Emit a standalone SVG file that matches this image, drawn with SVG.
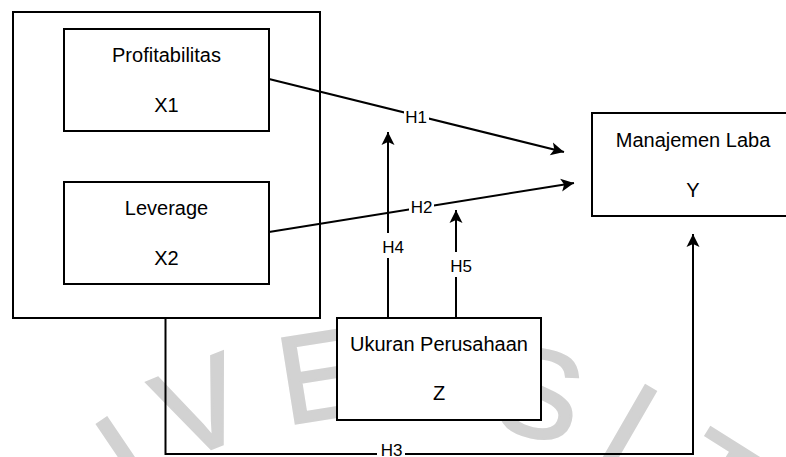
<svg xmlns="http://www.w3.org/2000/svg" width="786" height="457" viewBox="0 0 786 457">
  <style>
    .box { fill: #ffffff; stroke: #000000; stroke-width: 2; }
    .frame { fill: none; stroke: #000000; stroke-width: 2; }
    .t { font-family: "Liberation Sans", Arial, sans-serif; font-size: 20px; fill: #000000; text-anchor: middle; }
    .lbl { font-family: "Liberation Sans", Arial, sans-serif; font-size: 17px; fill: #000000; text-anchor: middle; }
    .edge { fill: none; stroke: #000000; stroke-width: 2; }
    .lblbg { fill: #ffffff; stroke: none; }
    .wm { font-family: "Liberation Sans", Arial, sans-serif; font-size: 125px; fill: #d2d2d2; stroke: #d2d2d2; stroke-width: 2.5; text-anchor: middle; }
  </style>
  <defs>
    <marker id="arrow" markerUnits="userSpaceOnUse" markerWidth="16" markerHeight="16" viewBox="-14 -8 16 16" refX="0" refY="0" orient="auto">
      <path d="M0,0 L-13,-6.5 L-10,0 L-13,6.5 Z" fill="#000000"/>
    </marker>
  </defs>
  <rect x="0" y="0" width="786" height="457" fill="#ffffff"/>

  <g id="watermark">
    <text class="wm" transform="translate(125,455) rotate(-34)" y="45">I</text>
    <text class="wm" transform="translate(200,405) rotate(-22)" y="45">V</text>
    <text class="wm" transform="translate(320,374) rotate(-9)" y="45">E</text>
    <text class="wm" transform="translate(540,392) rotate(12)" y="45">S</text>
    <text class="wm" transform="translate(630,424) rotate(30)" y="45">I</text>
    <text class="wm" transform="translate(719,481) rotate(32)" y="45">T</text>
  </g>

  <g id="group-x">
    <rect class="frame" x="13" y="12" width="307" height="306"/>
  </g>

  <g id="connectors">
    <line class="edge" x1="269" y1="79" x2="564" y2="152" marker-end="url(#arrow)"/>
    <line class="edge" x1="269" y1="232" x2="574" y2="183" marker-end="url(#arrow)"/>
    <line class="edge" x1="388" y1="318" x2="388" y2="132" marker-end="url(#arrow)"/>
    <line class="edge" x1="456" y1="318" x2="456" y2="210" marker-end="url(#arrow)"/>
    <polyline class="edge" points="165.5,318 165.5,454 693,454 693,234" marker-end="url(#arrow)"/>

    <rect class="lblbg" x="404" y="106" width="25" height="20"/>
    <text class="lbl" x="416" y="123">H1</text>
    <rect class="lblbg" x="409" y="197" width="25" height="20"/>
    <text class="lbl" x="421.5" y="213">H2</text>
    <rect class="lblbg" x="380" y="233" width="26" height="25"/>
    <text class="lbl" x="393" y="253">H4</text>
    <rect class="lblbg" x="448" y="252" width="26" height="25"/>
    <text class="lbl" x="461" y="272">H5</text>
    <rect class="lblbg" x="377" y="440" width="28" height="17"/>
    <text class="lbl" x="391.5" y="455.5">H3</text>
  </g>

  <g id="node-x1">
    <rect class="box" x="64" y="29" width="205" height="102"/>
    <text class="t" x="166.5" y="62">Profitabilitas</text>
    <text class="t" x="166.5" y="112">X1</text>
  </g>

  <g id="node-x2">
    <rect class="box" x="64" y="182" width="205" height="102"/>
    <text class="t" x="166.5" y="215">Leverage</text>
    <text class="t" x="166.5" y="265">X2</text>
  </g>

  <g id="node-y">
    <rect class="box" x="592" y="113" width="203" height="103"/>
    <text class="t" x="693" y="147">Manajemen Laba</text>
    <text class="t" x="693" y="197">Y</text>
  </g>

  <g id="node-z">
    <rect class="box" x="337" y="318" width="204" height="102"/>
    <text class="t" x="439" y="351">Ukuran Perusahaan</text>
    <text class="t" x="439" y="400">Z</text>
  </g>
</svg>
